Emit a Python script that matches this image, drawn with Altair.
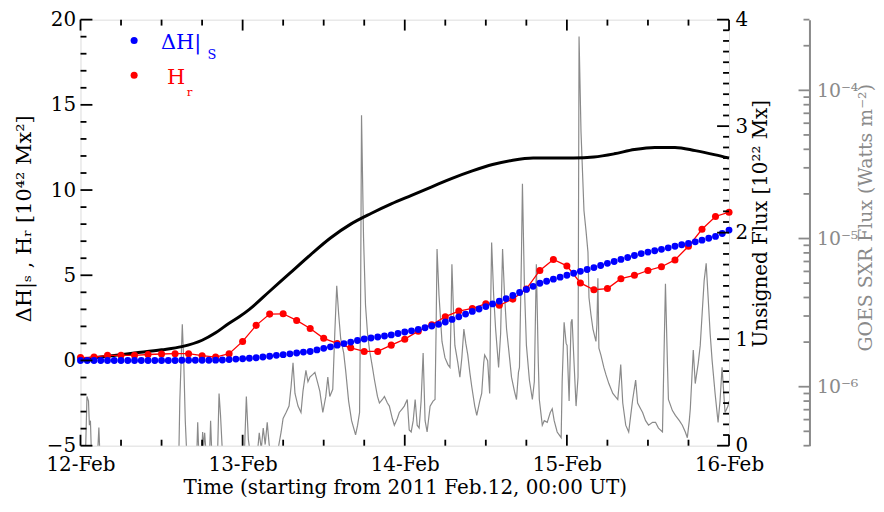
import altair as alt
import pandas as pd

W, H = 653, 429
FONT = "DejaVu Serif"
GRAY = "#8a8a8a"

# ---------------- data ----------------
day_hours = [0, 24, 48, 72, 96]
day_labels = ["12-Feb", "13-Feb", "14-Feb", "15-Feb", "16-Feb"]

# Unsigned flux [1e22 Mx] (black line, right axis)
flux_hours = [0, 4, 8, 12, 15, 18, 20, 22, 23.5, 25, 28, 31, 34, 37, 40, 43, 46,
              49, 52, 55, 58, 61, 64, 67, 70, 73, 76, 79, 82, 85, 88, 91, 94, 96]
flux_values = [0.81, 0.84, 0.87, 0.90, 0.93, 0.99, 1.06, 1.15, 1.21, 1.28, 1.45,
               1.62, 1.79, 1.95, 2.08, 2.18, 2.27, 2.35, 2.43, 2.51, 2.58, 2.64,
               2.68, 2.70, 2.70, 2.70, 2.71, 2.74, 2.78, 2.80, 2.80, 2.77, 2.73, 2.70]

# Delta H|_S (blue dots, hourly)
dh_hours = list(range(97))
dh_values = [0.0, 0.0, 0.0, 0.0, 0.0, 0.0, 0.0, 0.0, 0.0, 0.0,
             0.0, 0.0, 0.0, 0.0, 0.0, 0.01, 0.01, 0.01, 0.01, 0.01,
             0.02, 0.03, 0.05, 0.08, 0.10, 0.13, 0.16, 0.20, 0.25, 0.30,
             0.34, 0.39, 0.44, 0.49, 0.53, 0.62, 0.71, 0.80, 0.90, 0.99,
             1.08, 1.17, 1.26, 1.32, 1.38, 1.44, 1.50, 1.58, 1.67, 1.74,
             1.82, 1.92, 2.02, 2.12, 2.26, 2.41, 2.56, 2.72, 2.88, 3.02,
             3.16, 3.32, 3.48, 3.63, 3.81, 3.99, 4.17, 4.35, 4.53, 4.65,
             4.77, 4.89, 5.00, 5.12, 5.23, 5.34, 5.45, 5.57, 5.70, 5.81,
             5.93, 6.04, 6.16, 6.27, 6.36, 6.44, 6.52, 6.61, 6.70, 6.79,
             6.87, 6.96, 7.06, 7.17, 7.28, 7.45, 7.65]

# H_r (red dots + line, every 2 h)
hr_hours = list(range(0, 97, 2))
hr_values = [0.17, 0.20, 0.30, 0.30, 0.30, 0.35, 0.38, 0.40, 0.40, 0.28,
             0.20, 0.40, 1.12, 2.06, 2.72, 2.74, 2.35, 1.88, 1.30, 1.00,
             0.74, 0.53, 0.53, 0.90, 1.25, 1.72, 2.10, 2.57, 2.90, 3.05,
             3.33, 3.24, 3.60, 4.20, 5.28, 5.93, 5.55, 4.55, 4.15, 4.22,
             4.80, 5.00, 5.28, 5.50, 5.90, 6.70, 7.70, 8.45, 8.70]

# GOES SXR flux [W m^-2] (gray line, log axis)
goes_hours = [0, 0.74, 0.96, 1.18, 1.32, 1.47, 1.62, 2.5, 2.72, 2.87,
              14.55, 14.7, 15.07, 15.29, 15.51, 15.73, 17.2, 17.35, 17.49, 17.94,
              18.08, 18.23, 18.38, 18.6, 19.11, 19.26, 19.41, 20.29, 20.51, 20.73,
              21.02, 24.26, 24.55, 24.85, 25.14, 26.17, 26.46, 26.76, 27.05, 27.34,
              27.64, 27.93, 28.23, 29.25, 29.7, 29.99, 30.43, 30.87, 31.17, 31.46,
              31.75, 32.2, 32.64, 32.93, 33.37, 33.67, 33.96, 34.4, 34.7, 35.14,
              35.43, 35.87, 36.31, 36.61, 36.9, 37.34, 37.64, 37.93, 38.22, 38.52,
              38.96, 39.25, 39.69, 40.13, 40.72, 41.02, 41.31, 41.46, 41.6, 41.9,
              42.19, 42.49, 42.78, 43.22, 43.52, 43.96, 44.25, 44.69, 44.99, 45.43,
              45.72, 46.16, 46.46, 46.9, 47.19, 47.63, 47.93, 48.37, 48.66, 48.95,
              49.25, 49.54, 49.84, 50.13, 50.42, 50.72, 51.01, 51.31, 51.75, 52.19,
              52.48, 52.63, 52.78, 53.07, 53.51, 53.95, 54.39, 54.69, 54.83, 54.98,
              55.28, 55.42, 55.86, 56.16, 56.45, 56.75, 57.04, 57.33, 57.63, 57.92,
              58.36, 58.66, 59.1, 59.39, 59.69, 59.83, 60.27, 60.57, 60.72, 60.86,
              61.16, 61.45, 61.89, 62.19, 62.48, 62.77, 63.07, 63.51, 63.8, 64.24,
              64.54, 64.83, 64.98, 65.27, 65.42, 65.71, 66.01, 66.45, 66.89, 67.18,
              67.48, 67.77, 67.92, 68.36, 68.65, 69.09, 69.54, 69.83, 70.12, 70.56,
              70.86, 71.15, 71.3, 71.59, 71.89, 72.03, 72.33, 72.62, 72.77, 73.06,
              73.36, 73.65, 73.8, 74.09, 74.53, 74.83, 75.12, 75.27, 75.56, 75.86,
              76.3, 76.45, 76.59, 76.74, 77.03, 77.47, 77.77, 78.21, 78.8, 79.24,
              79.53, 79.83, 79.97, 80.27, 80.71, 81.15, 81.45, 81.74, 82.03, 82.18,
              82.47, 82.91, 83.21, 83.65, 84.09, 84.68, 85.12, 85.56, 86.15, 86.44,
              86.59, 86.88, 87.03, 87.62, 88.06, 88.65, 89.09, 89.53, 89.83, 90.12,
              90.27, 90.71, 91.0, 91.45, 91.74, 92.03, 92.32, 92.62, 92.91, 93.21,
              93.5, 93.94, 94.38, 94.67, 94.97, 95.41, 95.85, 96.0]
goes_flux = [3.3e-7, 3.5e-7, 8.6e-7, 8.0e-7, 5.5e-7, 5.9e-7, 3.5e-7, 3.3e-7, 5.3e-7, 3.5e-7,
             3.3e-7, 8.0e-7, 2.64e-6, 1.45e-6, 5.9e-7, 3.5e-7, 3.3e-7, 5.75e-7, 3.8e-7, 3.5e-7,
             4.95e-7, 3.9e-7, 4.88e-7, 3.5e-7, 3.5e-7, 5.9e-7, 3.8e-7, 3.5e-7, 9.0e-7, 6.4e-7,
             3.5e-7, 3.5e-7, 8.6e-7, 4.4e-7, 3.5e-7, 3.5e-7, 4.88e-7, 3.8e-7, 5.26e-7, 4.07e-7,
             5.75e-7, 4.07e-7, 3.5e-7, 3.8e-7, 4.95e-7, 6.1e-7, 6.7e-7, 7.4e-7, 1.0e-6, 1.45e-6,
             9.0e-7, 7.4e-7, 6.7e-7, 9.3e-7, 1.29e-6, 1.08e-6, 1.16e-6, 1.21e-6, 1.25e-6, 1.05e-6,
             9.3e-7, 6.7e-7, 8.6e-7, 1.16e-6, 8.6e-7, 9.6e-7, 2.28e-6, 4.8e-6, 3.07e-6, 2.1e-6,
             1.69e-6, 1.29e-6, 8.0e-7, 5.9e-7, 4.73e-7, 5.5e-7, 6.7e-7, 3.56e-6, 6.78e-5, 1.01e-5,
             3.56e-6, 2.28e-6, 1.77e-6, 1.35e-6, 1.11e-6, 8.6e-7, 7.76e-7, 8.2e-7, 8.6e-7, 7.76e-7,
             7.4e-7, 6.1e-7, 5.5e-7, 6.1e-7, 6.7e-7, 7.1e-7, 7.4e-7, 8.2e-7, 5.1e-7, 4.95e-7,
             5.9e-7, 8.2e-7, 5.5e-7, 5.26e-7, 8.0e-7, 1.69e-6, 5.9e-7, 4.95e-7, 7.4e-7, 8.0e-7,
             8.2e-7, 2.28e-6, 8.5e-6, 4.14e-6, 2.02e-6, 1.57e-6, 1.41e-6, 1.35e-6, 2.64e-6, 6.7e-6,
             2.64e-6, 1.9e-6, 1.45e-6, 1.16e-6, 1.57e-6, 2.45e-6, 1.96e-6, 1.64e-6, 1.25e-6, 1.0e-6,
             7.4e-7, 6.4e-7, 8.0e-7, 9.0e-7, 1.45e-6, 1.64e-6, 1.5e-6, 9.0e-7, 3.56e-6, 9.4e-6,
             4.14e-6, 2.45e-6, 1.35e-6, 2.28e-6, 8.5e-6, 4.14e-6, 2.45e-6, 1.57e-6, 1.16e-6, 9.3e-7,
             8.2e-7, 1.25e-6, 1.35e-6, 7.5e-6, 2.34e-5, 4.8e-6, 1.9e-6, 1.11e-6, 8.2e-7, 1.08e-6,
             6.7e-6, 1.45e-6, 8.2e-7, 5.5e-7, 5.9e-7, 5.75e-7, 6.7e-7, 7.1e-7, 5.9e-7, 4.95e-7,
             4.73e-7, 4.53e-7, 1.08e-6, 2.72e-6, 1.96e-6, 1.9e-6, 8.0e-7, 2.72e-6, 2.85e-6, 1.45e-6,
             7.4e-7, 1.16e-6, 2.31e-4, 5.26e-5, 1.54e-5, 1.13e-5, 8.1e-6, 4.0e-6, 3.07e-6, 2.45e-6,
             2.02e-6, 2.64e-6, 5.4e-6, 1.82e-6, 1.64e-6, 1.35e-6, 1.21e-6, 1.05e-6, 9.0e-7, 8.5e-7,
             8.2e-7, 1.16e-6, 1.41e-6, 7.76e-7, 5.5e-7, 4.95e-7, 6.4e-7, 8.2e-7, 1.0e-6, 1.11e-6,
             7.76e-7, 7.1e-7, 6.7e-7, 5.9e-7, 5.5e-7, 5.75e-7, 5.75e-7, 5.26e-7, 4.95e-7, 2.28e-6,
             4.95e-6, 1.45e-6, 8.2e-7, 6.9e-7, 6.4e-7, 5.9e-7, 5.5e-7, 4.95e-7, 4.53e-7, 5.9e-7,
             7.1e-7, 1.77e-6, 1.05e-6, 1.45e-6, 1.9e-6, 3.16e-6, 5.2e-6, 6.8e-6, 4.0e-6, 2.28e-6,
             1.5e-6, 9.0e-7, 5.75e-7, 8.0e-7, 1.35e-6, 6.7e-7, 7.4e-7, 8.0e-7]

# axis tick values
left_major = [-5, 0, 5, 10, 15, 20]
left_minor = [v for v in range(-5, 21) if v % 5 != 0]
right_major = [0, 1, 2, 3, 4]
right_minor = [round(i * 0.1, 1) for i in range(41) if i % 10 != 0]
goes_major = [1e-6, 1e-5, 1e-4]
goes_minor = [4e-7, 5e-7, 6e-7, 7e-7, 8e-7, 9e-7,
              2e-6, 3e-6, 4e-6, 5e-6, 6e-6, 7e-6, 8e-6, 9e-6,
              2e-5, 3e-5, 4e-5, 5e-5, 6e-5, 7e-5, 8e-5, 9e-5,
              2e-4, 3e-4]
x_minor = [h for h in range(0, 97, 6) if h % 24 != 0]

# ---------------- scales ----------------
xs = alt.Scale(domain=[0, 96], nice=False, zero=False)
yl = alt.Scale(domain=[-5, 20], nice=False, zero=False)
yr = alt.Scale(domain=[0, 4], nice=False, zero=False)
yg = alt.Scale(type="log", domain=[4e-7, 3e-4], nice=False)

x_label_expr = "[" + ",".join("'%s'" % s for s in day_labels) + "][round(datum.value / 24)]"
goes_label_expr = "datum.value < 3e-6 ? '10⁻⁶' : (datum.value < 3e-5 ? '10⁻⁵' : '10⁻⁴')"

title_kw = dict(titleFont=FONT, titleFontSize=20, titleFontWeight="normal")
label_kw = dict(labelFont=FONT, labelFontSize=20)

# GOES (gray)
goes = alt.Chart(pd.DataFrame({"h": goes_hours, "f": goes_flux})).mark_line(
    color=GRAY, strokeWidth=1.2, clip=True
).encode(
    x=alt.X("h:Q", scale=xs, axis=alt.Axis(
        orient="bottom", values=day_hours, labelExpr=x_label_expr, ticks=False,
        domain=False, grid=False, labelColor="black", labelPadding=9, labelFlush=False,
        title="Time (starting from 2011 Feb.12, 00:00 UT)", titleColor="black",
        titleY=48, titleBaseline="alphabetic", **title_kw, **label_kw)),
    y=alt.Y("f:Q", scale=yg, axis=alt.Axis(
        orient="right", offset=81, values=goes_major, labelExpr=goes_label_expr,
        ticks=False, domain=True, domainColor=GRAY, domainWidth=2, grid=False,
        labelColor=GRAY, labelPadding=7, labelFlush=False,
        labelFont=FONT, labelFontSize=19,
        title="GOES SXR Flux (Watts m⁻²)", titleColor=GRAY, titleAngle=270,
        titleX=56, titleY=199, titleBaseline="middle", titleAlign="center",
        titleFont=FONT, titleFontSize=19, titleFontWeight="normal")),
)

# Unsigned flux (black)
flux = alt.Chart(pd.DataFrame({"h": flux_hours, "v": flux_values})).mark_line(
    color="black", strokeWidth=3, interpolate="monotone"
).encode(
    x=alt.X("h:Q", scale=xs, axis=None),
    y=alt.Y("v:Q", scale=yr, axis=alt.Axis(
        orient="right", values=right_major, ticks=False, domain=False, grid=False,
        labelColor="black", labelPadding=6, labelFlush=False,
        title="Unsigned Flux [10²² Mx]", titleColor="black", titleAngle=270,
        titleX=32, titleY=205, titleBaseline="middle", titleAlign="center",
        **title_kw, **label_kw)),
)

# H_r (red)
hr_df = pd.DataFrame({"h": hr_hours, "v": hr_values})
hr_line = alt.Chart(hr_df).mark_line(color="red", strokeWidth=1.3).encode(
    x=alt.X("h:Q", scale=xs, axis=None),
    y=alt.Y("v:Q", scale=yl, axis=None),
)
hr_pts = alt.Chart(hr_df).mark_point(filled=True, color="red", size=50, opacity=1).encode(
    x=alt.X("h:Q", scale=xs, axis=None),
    y=alt.Y("v:Q", scale=yl, axis=None),
)

# Delta H|_S (blue)
dh = alt.Chart(pd.DataFrame({"h": dh_hours, "v": dh_values})).mark_point(
    filled=True, color="blue", size=48, opacity=1
).encode(
    x=alt.X("h:Q", scale=xs, axis=None),
    y=alt.Y("v:Q", scale=yl, axis=alt.Axis(
        orient="left", values=left_major, ticks=False, domain=False, grid=False,
        labelColor="black", labelPadding=5, labelFlush=False,
        title="ΔH|ₛ , Hᵣ [10⁴² Mx²]", titleColor="black", titleAngle=270,
        titleX=-56, titleY=200, titleBaseline="middle", titleAlign="center",
        titleFont=FONT, titleFontSize=21, titleFontWeight="normal", **label_kw)),
)


def hticks(values, scale, x0, x1, color="black"):
    return alt.Chart(pd.DataFrame({"v": values})).mark_rule(color=color, strokeWidth=1.8).encode(
        y=alt.Y("v:Q", scale=scale, axis=None), x=alt.value(x0), x2=alt.value(x1))


def vticks(values, y0, y1):
    return alt.Chart(pd.DataFrame({"v": values})).mark_rule(color="black", strokeWidth=1.8).encode(
        x=alt.X("v:Q", scale=xs, axis=None), y=alt.value(y0), y2=alt.value(y1))


ticks = [
    hticks(left_major, yl, 0, 12), hticks(left_minor, yl, 0, 6),
    hticks(right_major, yr, W - 12, W), hticks(right_minor, yr, W - 6, W),
    hticks(goes_major, yg, W + 81 - 11, W + 81, GRAY),
    hticks(goes_minor, yg, W + 81 - 6, W + 81, GRAY),
    vticks(day_hours, 0, 11), vticks(x_minor, 0, 6),
    vticks(day_hours, H - 11, H), vticks(x_minor, H - 6, H),
]

one = pd.DataFrame({"a": [0]})
legend = [
    alt.Chart(one).mark_point(filled=True, color="blue", size=50, opacity=1).encode(
        x=alt.value(54), y=alt.value(21)),
    alt.Chart(one).mark_point(filled=True, color="red", size=50, opacity=1).encode(
        x=alt.value(54), y=alt.value(56)),
    alt.Chart(one).mark_text(text="ΔH|", color="blue", font=FONT, fontSize=21,
                             align="left", baseline="alphabetic").encode(
        x=alt.value(81), y=alt.value(30)),
    alt.Chart(one).mark_text(text="S", color="blue", font=FONT, fontSize=13,
                             align="left", baseline="alphabetic").encode(
        x=alt.value(128), y=alt.value(40)),
    alt.Chart(one).mark_text(text="H", color="red", font=FONT, fontSize=21,
                             align="left", baseline="alphabetic").encode(
        x=alt.value(87), y=alt.value(65)),
    alt.Chart(one).mark_text(text="r", color="red", font=FONT, fontSize=12,
                             align="left", baseline="alphabetic").encode(
        x=alt.value(107), y=alt.value(77)),
]

chart = alt.layer(goes, flux, hr_line, hr_pts, dh, *ticks, *legend).resolve_scale(
    y="independent"
).resolve_axis(
    x="independent"
).properties(
    width=W, height=H,
    autosize=alt.AutoSizeParams(type="none"),
    padding={"left": 73, "top": 10, "right": 148, "bottom": 56},
).configure_view(
    stroke="black", strokeWidth=2
).configure(background="white")

chart.save("out.html", embed_options={"renderer": "svg", "actions": False})
